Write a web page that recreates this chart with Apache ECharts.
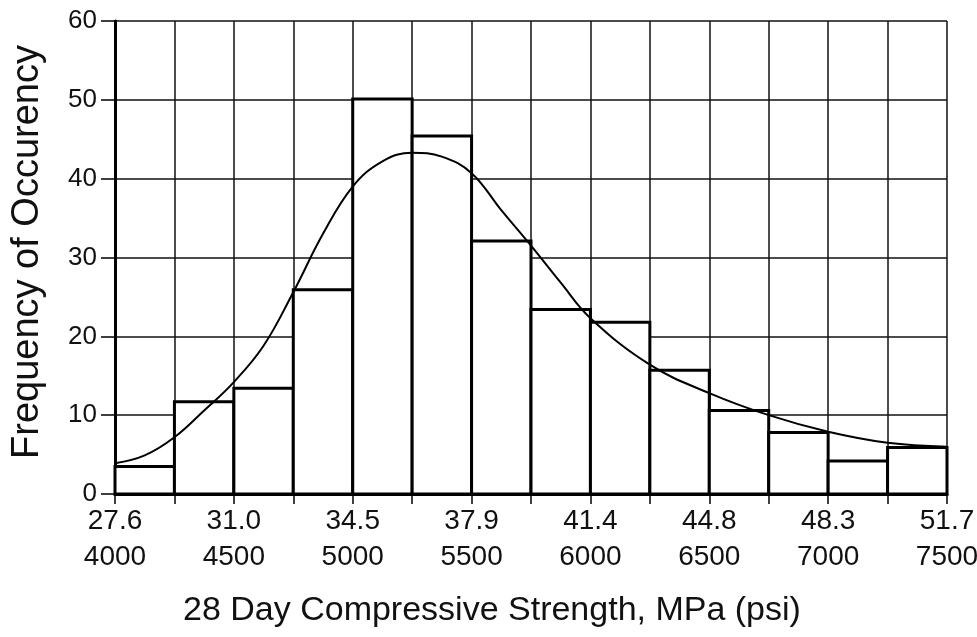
<!DOCTYPE html>
<html>
<head>
<meta charset="utf-8">
<script src="https://cdn.jsdelivr.net/npm/echarts@6/dist/echarts.min.js"></script>
<style>html,body{margin:0;padding:0;background:#fff;}#c{width:977px;height:637px;}</style>
</head>
<body>
<div id="c"></div>
<script>
// Histogram bins (psi) and frequencies
const binStarts = [4000,4250,4500,4750,5000,5250,5500,5750,6000,6250,6500,6750,7000,7250];
const binWidth = 250;
const frequencies = [3.5,11.7,13.4,25.9,50.1,45.4,32.1,23.4,21.8,15.7,10.6,7.8,4.2,5.9];
// Fitted curve points [psi, frequency]
const curveX = [4000,4125,4250,4375,4500,4625,4750,4875,5000,5125,5250,5375,5500,5625,5750,5875,6000,6250,6500,6750,7000,7250,7500];
const curveY = [3.9,4.9,7.2,10.6,14.2,18.8,25.6,33.0,39.0,42.2,43.3,42.8,40.7,36.0,31.5,26.8,22.3,16.4,12.8,10.0,7.9,6.5,6.0];
// Tick labels
const psiTicks = [4000,4500,5000,5500,6000,6500,7000,7500];
const mpaTicks = ['27.6','31.0','34.5','37.9','41.4','44.8','48.3','51.7'];

const barData = binStarts.map((s,i)=>[s, s+binWidth, frequencies[i]]);
const curveData = curveX.map((x,i)=>[x, curveY[i]]);

const chart = echarts.init(document.getElementById('c'), null, {renderer:'canvas'});
const FONT = '"Liberation Sans", Arial, sans-serif';
chart.setOption({
  animation:false,
  backgroundColor:'#fff',
  grid:{left:115, right:30, top:21, bottom:143, containLabel:false, outerBoundsMode:'none'},
  xAxis:{
    type:'value', min:4000, max:7500, interval:250,
    axisLine:{show:true, onZero:false, lineStyle:{color:'#000', width:3}},
    axisTick:{show:true, length:10, lineStyle:{color:'#000', width:1.5}},
    axisLabel:{
      color:'#111', fontSize:28, fontFamily:FONT, lineHeight:36, margin:9, hideOverlap:false,
      formatter:(v)=>{const i=psiTicks.indexOf(v); return i>=0 ? mpaTicks[i]+'\n'+psiTicks[i] : '';}
    },
    splitLine:{show:true, lineStyle:{color:'#111', width:1.5}}
  },
  yAxis:{
    type:'value', min:0, max:60, interval:10,
    axisLine:{show:true, lineStyle:{color:'#000', width:3}},
    axisTick:{show:true, length:14, lineStyle:{color:'#000', width:1.5}},
    axisLabel:{color:'#111', fontSize:26, fontFamily:FONT, margin:18},
    splitLine:{show:true, lineStyle:{color:'#111', width:1.5}}
  },
  graphic:[
    {type:'text', left:183, top:594,
     style:{text:'28 Day Compressive Strength, MPa (psi)', fontSize:34, fontFamily:FONT, fill:'#111'}},
    {type:'text', x:28, y:252, rotation:Math.PI/2,
     style:{text:'Frequency of Occurency', fontSize:38, fontFamily:FONT, fill:'#111', align:'center', verticalAlign:'middle'}}
  ],
  series:[
    {
      type:'custom',
      data:barData,
      encode:{x:[0,1], y:2},
      renderItem:(params, api)=>{
        const p0 = api.coord([api.value(0), api.value(2)]);
        const p1 = api.coord([api.value(1), 0]);
        return {type:'rect', shape:{x:p0[0], y:p0[1], width:p1[0]-p0[0], height:p1[1]-p0[1]},
          style:{fill:'#fff', stroke:'#000', lineWidth:3}};
      },
      z:3
    },
    {
      type:'line', data:curveData, smooth:0.4, showSymbol:false,
      lineStyle:{color:'#000', width:2}, z:5
    }
  ]
});
</script>
</body>
</html>
